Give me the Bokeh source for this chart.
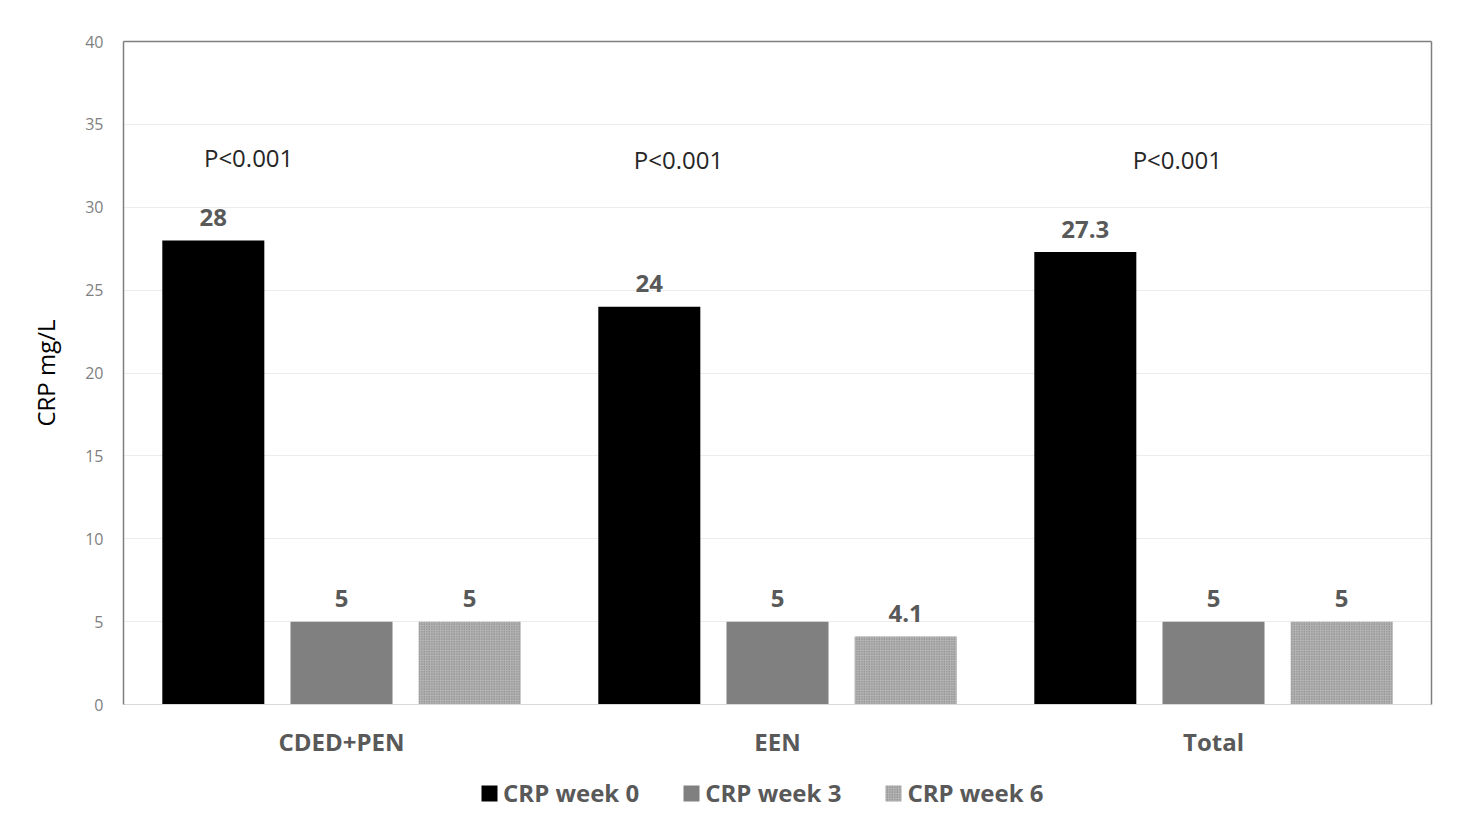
from bokeh.plotting import figure
from bokeh.layouts import column
from bokeh.models import (ColumnDataSource, FactorRange, Legend, LegendItem, LinearAxis,
                          FixedTicker, Range1d)
from bokeh.transform import dodge
from bokeh.core.properties import value
from bokeh.embed import file_html
from bokeh.resources import INLINE

# ---- data ----
groups = ["CDED+PEN", "EEN", "Total"]
crp_week0 = [28, 24, 27.3]
crp_week3 = [5, 5, 5]
crp_week6 = [5, 4.1, 5]
series_names = ["CRP week 0", "CRP week 3", "CRP week 6"]
p_labels = ["P<0.001", "P<0.001", "P<0.001"]
y_ticks = [0, 5, 10, 15, 20, 25, 30, 35, 40]

FONT = "Open Sans"
GRAY_TXT = "#595959"

src = ColumnDataSource(dict(
    cat=groups, w0=crp_week0, w3=crp_week3, w6=crp_week6,
    l0=[f"{v:g}" for v in crp_week0],
    l3=[f"{v:g}" for v in crp_week3],
    l6=[f"{v:g}" for v in crp_week6],
))

p = figure(x_range=FactorRange(*groups), y_range=Range1d(0, 40),
           frame_width=1308, frame_height=663, output_backend="svg", toolbar_location=None,
           min_border_left=123, min_border_right=28, min_border_top=41, min_border_bottom=60,
           outline_line_color=None, background_fill_color="white", border_fill_color="white")

off = 0.294
bw = 0.234
STY0 = dict(fill_color="#000000", line_color=None)
STY3 = dict(fill_color="#808080", line_color=None)
STY6 = dict(fill_color="#b4b4b4", line_color=None,
            hatch_pattern="dot", hatch_color="#777777", hatch_scale=2.5, hatch_weight=1.2)

p.vbar(x=dodge("cat", -off, range=p.x_range), top="w0", width=bw, source=src, **STY0)
p.vbar(x=dodge("cat", 0.0, range=p.x_range), top="w3", width=bw, source=src, **STY3)
p.vbar(x=dodge("cat", off, range=p.x_range), top="w6", width=bw, source=src, **STY6)

for col, lab, o in (("w0", "l0", -off), ("w3", "l3", 0.0), ("w6", "l6", off)):
    p.text(x=dodge("cat", o, range=p.x_range), y=col, text=lab, source=src,
           text_align="center", text_baseline="alphabetic", y_offset=-23,
           text_font=value(FONT), text_font_style="bold", text_font_size="24px",
           text_color=GRAY_TXT)

# P-value annotations (horizontal shift per group, in category units)
p_shift = [-0.213, -0.227, -0.083]
p_y = [33, 32.9, 32.9]
for i in range(3):
    s = ColumnDataSource(dict(cat=[groups[i]], t=[p_labels[i]], y=[p_y[i]]))
    p.text(x=dodge("cat", p_shift[i], range=p.x_range), y="y", text="t", source=s,
           text_align="center", text_baseline="middle",
           text_font=value(FONT), text_font_size="24px", text_color="#262626")

# axes styling
xa = p.xaxis[0]
xa.axis_line_color = "#d9d9d9"
xa.major_tick_line_color = None
xa.minor_tick_line_color = None
xa.major_label_standoff = 14
xa.major_label_text_font = FONT
xa.major_label_text_font_style = "bold"
xa.major_label_text_font_size = "24px"
xa.major_label_text_color = GRAY_TXT

ya = p.yaxis[0]
ya.ticker = FixedTicker(ticks=y_ticks)
ya.axis_line_color = "#7f7f7f"
ya.axis_line_width = 1.5
ya.major_tick_line_color = None
ya.minor_tick_line_color = None
ya.major_label_standoff = 14
ya.major_label_text_font = FONT
ya.major_label_text_font_size = "16px"
ya.major_label_text_color = "#7f7f7f"
ya.axis_label = "CRP mg/L"
ya.axis_label_text_font = FONT
ya.axis_label_text_font_style = "normal"
ya.axis_label_text_font_size = "24px"
ya.axis_label_text_color = "#000000"
ya.axis_label_standoff = 20

for side in ("right", "above"):
    ax = LinearAxis(axis_line_color="#7f7f7f", axis_line_width=1.5,
                    major_tick_line_color=None, minor_tick_line_color=None,
                    major_label_text_font_size="0px", ticker=FixedTicker(ticks=[]))
    p.add_layout(ax, side)

p.xgrid.grid_line_color = None
p.ygrid.grid_line_color = "#ececec"
p.ygrid.ticker = FixedTicker(ticks=y_ticks)

# ---- legend strip (same series, drawn out of view so only the legend shows) ----
lg = figure(x_range=p.x_range, y_range=Range1d(1000, 1001),
            width=1459, height=60, output_backend="svg", toolbar_location=None,
            min_border=0, outline_line_color=None, background_fill_color="white",
            border_fill_color="white")
lg.axis.visible = False
lg.grid.visible = False
g0 = lg.vbar(x=dodge("cat", -off, range=lg.x_range), top="w0", width=bw, source=src, **STY0)
g3 = lg.vbar(x=dodge("cat", 0.0, range=lg.x_range), top="w3", width=bw, source=src, **STY3)
g6 = lg.vbar(x=dodge("cat", off, range=lg.x_range), top="w6", width=bw, source=src, **STY6)

legend = Legend(items=[LegendItem(label=series_names[0], renderers=[g0]),
                       LegendItem(label=series_names[1], renderers=[g3]),
                       LegendItem(label=series_names[2], renderers=[g6])],
                orientation="horizontal", location=(356, 15),
                label_text_font=FONT, label_text_font_style="bold",
                label_text_font_size="24px", label_text_color=GRAY_TXT,
                glyph_width=20, glyph_height=20, label_standoff=4, spacing=42,
                padding=4, margin=0, border_line_color=None,
                background_fill_alpha=0)
lg.add_layout(legend)

layout = column(p, lg, spacing=0)
open("out.html", "w").write(file_html(layout, INLINE))
